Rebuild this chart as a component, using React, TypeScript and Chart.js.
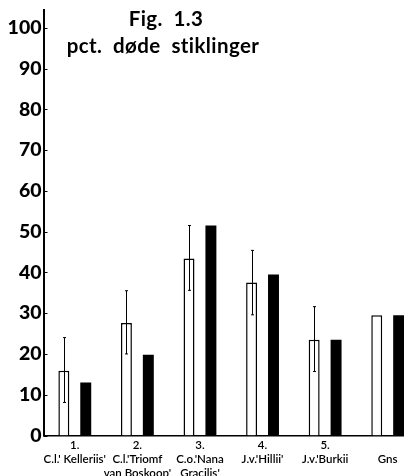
import React, { useEffect, useRef } from "react";
import { Chart, registerables } from "chart.js";

Chart.register(...registerables);

const categories: string[][] = [
  ["1.", "C.l.' Kelleriis'"],
  ["2.", "C.l.'Triomf", "van Boskoop'"],
  ["3.", "C.o.'Nana", "Gracilis'"],
  ["4.", "J.v.'Hillii'"],
  ["5.", "J.v.'Burkii"],
  ["", "Gns"],
];
const whiteValues = [15.9, 27.6, 43.4, 37.5, 23.5, 29.5];
const blackValues = [13.0, 19.8, 51.5, 39.5, 23.5, 29.5];
const errLow: (number | null)[] = [8.1, 20.0, 35.6, 29.6, 15.7, null];
const errHigh: (number | null)[] = [24.0, 35.5, 51.5, 45.4, 31.6, null];
const yTicks = [0, 10, 20, 30, 40, 50, 60, 70, 80, 90, 100];
const titleLines = ["Fig.  1.3", "pct.  døde  stiklinger"];

const FONT = "Lato, 'Open Sans', 'DejaVu Sans', sans-serif";

const extrasPlugin = {
  id: "extras",
  afterDatasetsDraw(chart: any) {
    const ctx = chart.ctx;
    const y = chart.scales.y;
    const meta = chart.getDatasetMeta(0);
    ctx.save();
    ctx.strokeStyle = "#000";
    ctx.lineWidth = 1;
    meta.data.forEach((bar: any, i: number) => {
      const lo = errLow[i];
      const hi = errHigh[i];
      if (lo == null || hi == null) return;
      const x = Math.round(bar.x) + 0.5;
      const y1 = y.getPixelForValue(lo);
      const y2 = y.getPixelForValue(hi);
      ctx.beginPath();
      ctx.moveTo(x, y1);
      ctx.lineTo(x, y2);
      ctx.moveTo(x - 1.5, y2);
      ctx.lineTo(x + 1.5, y2);
      ctx.moveTo(x - 1.5, y1);
      ctx.lineTo(x + 1.5, y1);
      ctx.stroke();
    });
    yTicks.forEach((v) => {
      const py = Math.round(y.getPixelForValue(v)) + 0.5;
      ctx.beginPath();
      ctx.moveTo(y.right, py);
      ctx.lineTo(y.right + 4, py);
      ctx.stroke();
    });
    ctx.restore();
  },
  afterDraw(chart: any) {
    const ctx = chart.ctx;
    ctx.save();
    ctx.fillStyle = "#000";
    ctx.textAlign = "center";
    ctx.textBaseline = "middle";
    try {
      (ctx as any).letterSpacing = "0.4px";
    } catch (e) {}
    ctx.font = `bold 20.5px ${FONT}`;
    ctx.fillText(titleLines[0], 166, 19);
    ctx.fillText(titleLines[1], 163, 46);
    ctx.restore();
  },
};

export default function App() {
  const ref = useRef<HTMLCanvasElement>(null);
  useEffect(() => {
    if (!ref.current) return;
    const chart = new Chart(ref.current, {
      type: "bar",
      data: {
        labels: categories,
        datasets: [
          {
            data: whiteValues,
            backgroundColor: "#fff",
            borderColor: "#000",
            borderWidth: 1.5,
            barPercentage: 0.5,
            categoryPercentage: 0.7,
          },
          {
            data: blackValues,
            backgroundColor: "#000",
            borderColor: "#000",
            borderWidth: 0,
            barPercentage: 0.5,
            categoryPercentage: 0.7,
          },
        ],
      },
      plugins: [extrasPlugin],
      options: {
        responsive: false,
        animation: false,
        devicePixelRatio: 1,
        layout: { padding: { top: 8, left: 0, right: 0, bottom: 0 } },
        plugins: {
          legend: { display: false },
          tooltip: { enabled: false },
          title: { display: false },
        },
        scales: {
          x: {
            grid: { display: false, drawTicks: false },
            border: { display: true, color: "#000", width: 1.5 },
            ticks: {
              color: "#000",
              padding: 3,
              maxRotation: 0,
              autoSkip: false,
              font: { family: FONT, size: 11.5, weight: "600", lineHeight: 1.22 },
            },
            afterFit(scale: any) {
              scale.height = 40.5;
            },
          },
          y: {
            min: 0,
            max: 104.4,
            grid: { display: false, drawTicks: false },
            border: { display: true, color: "#000", width: 2 },
            afterBuildTicks(scale: any) {
              scale.ticks = yTicks.map((v) => ({ value: v }));
            },
            ticks: {
              color: "#000",
              padding: 2,
              font: { family: FONT, size: 19.5, weight: "900", lineHeight: 0.8 },
            },
            afterFit(scale: any) {
              scale.width = 43.5;
            },
          },
        },
      },
    });
    return () => chart.destroy();
  }, []);
  return (
    <div
      style={{
        position: "fixed",
        left: 0,
        top: 0,
        width: 404,
        height: 476,
        overflow: "hidden",
        background: "#fff",
      }}
    >
      <canvas ref={ref} width={419} height={476} style={{ display: "block" }} />
    </div>
  );
}
